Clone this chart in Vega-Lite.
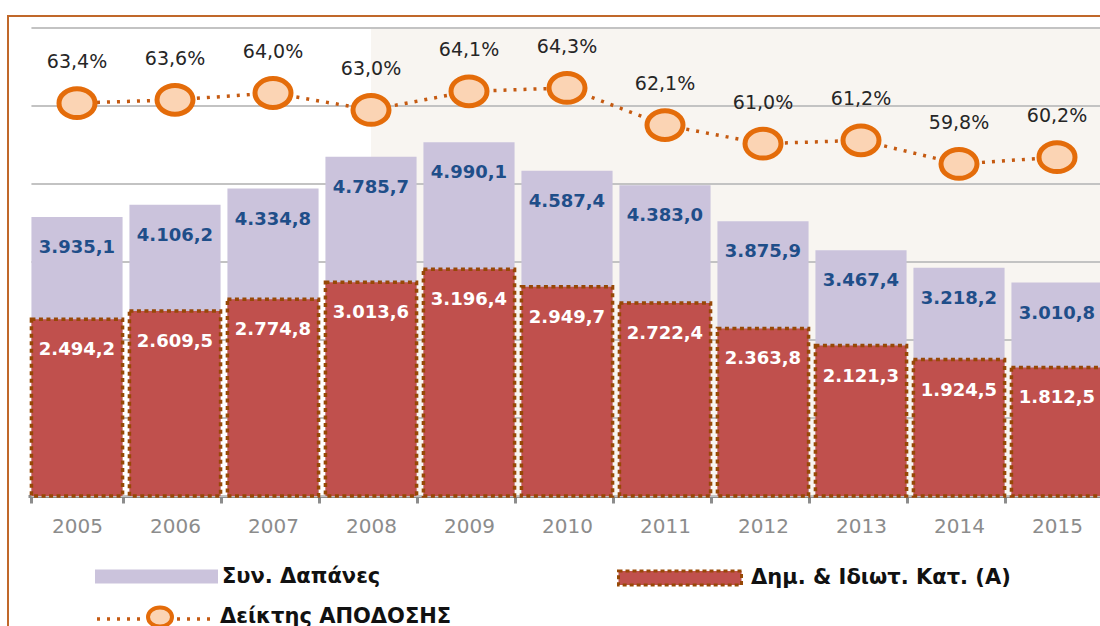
{
  "$schema": "https://vega.github.io/schema/vega-lite/v6.json",
  "width": 1094,
  "height": 612,
  "autosize": {"type": "none"},
  "padding": {"left": 8, "top": 16, "right": -2, "bottom": -2},
  "background": "white",
  "config": {
    "font": "DejaVu Sans",
    "locale": {"number": {"decimal": ",", "thousands": ".", "grouping": [3], "currency": ["", " €"]}},
    "view": {"stroke": "#c0682a", "strokeWidth": 2},
    "axisX": {
      "title": null, "orient": "bottom", "offset": -132, "zindex": 2,
      "tickBand": "extent", "labelAngle": 0,
      "labelFont": "DejaVu Sans", "labelFontSize": 20, "labelColor": "#8c8c8c", "labelPadding": 13,
      "domainColor": "#8c8c8c", "domainWidth": 3,
      "tickColor": "#8c8c8c", "tickWidth": 3, "tickSize": 7, "grid": false
    }
  },
  "datasets": {
    "main": [
      {"year": "2005", "total": 3935.1, "cons": 2494.2, "ratio": 0.634},
      {"year": "2006", "total": 4106.2, "cons": 2609.5, "ratio": 0.636},
      {"year": "2007", "total": 4334.8, "cons": 2774.8, "ratio": 0.640},
      {"year": "2008", "total": 4785.7, "cons": 3013.6, "ratio": 0.630},
      {"year": "2009", "total": 4990.1, "cons": 3196.4, "ratio": 0.641},
      {"year": "2010", "total": 4587.4, "cons": 2949.7, "ratio": 0.643},
      {"year": "2011", "total": 4383.0, "cons": 2722.4, "ratio": 0.621},
      {"year": "2012", "total": 3875.9, "cons": 2363.8, "ratio": 0.610},
      {"year": "2013", "total": 3467.4, "cons": 2121.3, "ratio": 0.612},
      {"year": "2014", "total": 3218.2, "cons": 1924.5, "ratio": 0.598},
      {"year": "2015", "total": 3010.8, "cons": 1812.5, "ratio": 0.602}
    ],
    "shade": [{"from": "2008", "to": "2015", "lo": 0, "hi": 6600}],
    "grid": [{"g": 0}, {"g": 1100}, {"g": 2200}, {"g": 3300}, {"g": 4400}, {"g": 5500}, {"g": 6600}]
  },
  "layer": [
    {
      "data": {"name": "shade"},
      "mark": {"type": "rect", "color": "#f8f5f1"},
      "encoding": {
        "x": {"field": "from", "type": "ordinal", "bandPosition": 0.5, "axis": {"title": null},
              "scale": {"domain": ["2005", "2006", "2007", "2008", "2009", "2010", "2011", "2012", "2013", "2014", "2015"], "range": [20, 1098], "paddingInner": 0.07, "paddingOuter": 0.035}},
        "x2": {"field": "to", "bandPosition": 1},
        "y": {"field": "lo", "type": "quantitative", "scale": {"domain": [0, 6600], "range": [480, 12]}, "axis": null},
        "y2": {"field": "hi"}
      }
    },
    {
      "data": {"name": "grid"},
      "mark": {"type": "rule", "color": "#c3c3c3", "strokeWidth": 2},
      "encoding": {
        "x": {"datum": "2005", "type": "ordinal", "bandPosition": 0, "axis": {"title": null}},
        "x2": {"datum": "2015", "bandPosition": 1},
        "y": {"field": "g", "type": "quantitative", "scale": {"domain": [0, 6600], "range": [480, 12]}, "axis": null}
      }
    },
    {
      "data": {"name": "main"},
      "mark": {"type": "bar"},
      "encoding": {
        "x": {"field": "year", "type": "ordinal", "axis": {"title": null}},
        "y": {"field": "total", "type": "quantitative", "scale": {"domain": [0, 6600], "range": [480, 12]}, "axis": null},
        "fill": {
          "datum": "Συν. Δαπάνες",
          "type": "nominal",
          "scale": {"range": ["#cbc3dc"]},
          "legend": {
            "orient": "none", "legendX": 87, "legendY": 499, "title": null, "padding": 0,
            "symbolType": "M-1,-0.115H1V0.115H-1Z", "symbolSize": 15129, "symbolStrokeWidth": 0,
            "labelFont": "DejaVu Sans", "labelFontSize": 21, "labelFontWeight": "bold", "labelColor": "#111111", "labelOffset": 4, "labelLimit": 400
          }
        }
      }
    },
    {
      "data": {"name": "main"},
      "mark": {"type": "bar", "stroke": "#974806", "strokeWidth": 3.5, "strokeDash": [4, 3.5]},
      "encoding": {
        "x": {"field": "year", "type": "ordinal", "axis": {"title": null}},
        "y": {"field": "cons", "type": "quantitative", "scale": {"domain": [0, 6600], "range": [480, 12]}, "axis": null},
        "color": {
          "datum": "Δημ. & Ιδιωτ. Κατ. (Α)",
          "type": "nominal",
          "scale": {"range": ["#c0504d"]},
          "legend": {
            "orient": "none", "legendX": 609, "legendY": 499, "title": null, "padding": 0,
            "symbolType": "M-1,-0.115H1V0.115H-1Z", "symbolSize": 15129,
            "symbolStrokeColor": "#974806", "symbolStrokeWidth": 3, "symbolDash": [4, 3],
            "labelFont": "DejaVu Sans", "labelFontSize": 21, "labelFontWeight": "bold", "labelColor": "#111111", "labelOffset": 8, "labelLimit": 500
          }
        }
      }
    },
    {
      "data": {"name": "main"},
      "mark": {"type": "text", "dy": 31, "fontSize": 18, "fontWeight": "bold", "color": "#1f4e89"},
      "encoding": {
        "x": {"field": "year", "type": "ordinal", "axis": {"title": null}},
        "y": {"field": "total", "type": "quantitative", "scale": {"domain": [0, 6600], "range": [480, 12]}, "axis": null},
        "text": {"field": "total", "type": "quantitative", "format": ",.1f"}
      }
    },
    {
      "data": {"name": "main"},
      "mark": {"type": "text", "dy": 31, "fontSize": 18, "fontWeight": "bold", "color": "#ffffff"},
      "encoding": {
        "x": {"field": "year", "type": "ordinal", "axis": {"title": null}},
        "y": {"field": "cons", "type": "quantitative", "scale": {"domain": [0, 6600], "range": [480, 12]}, "axis": null},
        "text": {"field": "cons", "type": "quantitative", "format": ",.1f"}
      }
    },
    {
      "data": {"name": "main"},
      "mark": {"type": "line", "strokeWidth": 3.5, "color": "#c55a11"},
      "encoding": {
        "x": {"field": "year", "type": "ordinal", "axis": {"title": null}},
        "y": {"field": "ratio", "type": "quantitative", "scale": {"domain": [0.4014, 0.6785], "range": [480, 12]}, "axis": null},
        "strokeDash": {
          "datum": "γραμμή",
          "type": "nominal",
          "scale": {"range": [[3, 7]]},
          "legend": {
            "orient": "none", "legendX": 87, "legendY": 541, "title": null, "padding": 0,
            "symbolType": "M-1,0H1", "symbolSize": 14400, "symbolStrokeWidth": 3.5, "symbolStrokeColor": "#c55a11",
            "labelExpr": "''", "labelFontSize": 20
          }
        }
      }
    },
    {
      "data": {"name": "main"},
      "mark": {"type": "point", "filled": false, "fill": "#fbd4b4", "strokeWidth": 5, "size": 1296, "opacity": 1, "shape": "M-1,0A1,0.8,0,1,0,1,0A1,0.8,0,1,0,-1,0Z"},
      "encoding": {
        "x": {"field": "year", "type": "ordinal", "axis": {"title": null}},
        "y": {"field": "ratio", "type": "quantitative", "scale": {"domain": [0.4014, 0.6785], "range": [480, 12]}, "axis": null},
        "stroke": {
          "datum": "Δείκτης ΑΠΟΔΟΣΗΣ",
          "type": "nominal",
          "scale": {"range": ["#e46c0a"]},
          "legend": {
            "orient": "none", "legendX": 138, "legendY": 587, "title": null, "padding": 0,
            "symbolType": "M-1,0A1,0.8,0,1,0,1,0A1,0.8,0,1,0,-1,0Z",
            "symbolSize": 576, "symbolFillColor": "#fbd4b4", "symbolStrokeWidth": 4, "symbolOpacity": 1,
            "labelFont": "DejaVu Sans", "labelFontSize": 21, "labelFontWeight": "bold", "labelColor": "#111111", "labelOffset": 46, "labelLimit": 400
          }
        }
      }
    },
    {
      "data": {"name": "main"},
      "mark": {"type": "text", "dy": -41, "fontSize": 19, "color": "#262626"},
      "encoding": {
        "x": {"field": "year", "type": "ordinal", "axis": {"title": null}},
        "y": {"field": "ratio", "type": "quantitative", "scale": {"domain": [0.4014, 0.6785], "range": [480, 12]}, "axis": null},
        "text": {"field": "ratio", "type": "quantitative", "format": ".1%"}
      }
    }
  ],
  "resolve": {"scale": {"y": "independent"}}
}
